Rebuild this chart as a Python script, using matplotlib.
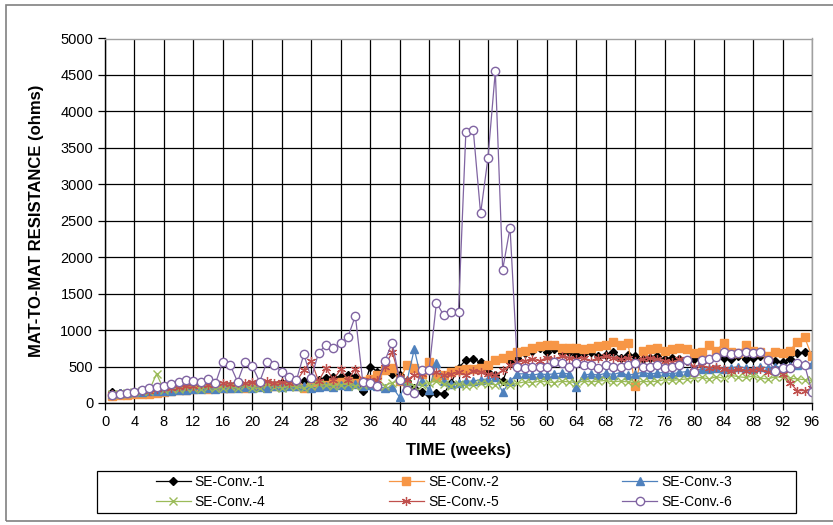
import matplotlib
matplotlib.use("Agg")
import matplotlib.pyplot as plt
from matplotlib.patches import Rectangle

weeks = list(range(1, 97))

se1 = [150, 140, 140, 150, 160, 170, 170, 180, 190, 200, 200, 210, 220, 220, 230, 220,
       240, 230, 240, 250, 240, 260, 250, 270, 260, 280, 300, 280, 320, 340, 350, 360,
       380, 360, 160, 500, 430, 470, 400, 380, 300, 200, 150, 120, 140, 130, 280, 480,
       590, 600, 560, 420, 380, 300, 560, 620, 680, 720, 760, 700, 740, 680, 700, 660,
       680, 700, 640, 660, 700, 620, 660, 640, 600, 620, 640, 600, 620, 600, 580, 600,
       620, 600, 640, 620, 600, 640, 600, 620, 640, 600, 580, 560, 600, 680, 700, 660]

se2 = [100, 110, 110, 120, 130, 130, 140, 150, 170, 180, 180, 190, 200, 190, 200, 210,
       200, 220, 210, 220, 230, 220, 240, 230, 250, 240, 200, 220, 260, 250, 280, 290,
       300, 280, 300, 330, 380, 450, 480, 300, 520, 480, 400, 560, 350, 380, 420, 450,
       460, 470, 480, 520, 590, 620, 660, 700, 720, 760, 780, 790, 800, 760, 750, 760,
       740, 760, 780, 800, 830, 800, 820, 240, 720, 740, 760, 720, 740, 760, 740, 680,
       700, 790, 720, 820, 700, 680, 790, 720, 700, 650, 700, 680, 720, 840, 900, 640]

se3 = [130, 140, 140, 150, 150, 160, 160, 170, 170, 180, 180, 190, 190, 200, 190, 200,
       210, 200, 220, 210, 220, 210, 230, 220, 230, 240, 230, 200, 220, 240, 220, 250,
       230, 260, 240, 250, 230, 200, 220, 80, 300, 740, 300, 180, 550, 300, 260, 280,
       300, 300, 320, 330, 350, 150, 300, 400, 400, 380, 400, 390, 400, 410, 400, 220,
       380, 400, 380, 410, 390, 420, 380, 400, 420, 400, 410, 420, 400, 420, 430, 450,
       460, 470, 480, 470, 480, 500, 480, 470, 500, 480, 500, 490, 510, 520, 540, 540]

se4 = [120, 130, 140, 150, 160, 170, 400, 180, 200, 190, 200, 210, 190, 220, 200, 210,
       230, 200, 250, 210, 200, 260, 220, 210, 230, 220, 200, 240, 260, 250, 230, 250,
       260, 230, 250, 270, 260, 240, 280, 300, 260, 240, 250, 280, 300, 260, 240, 260,
       240, 250, 270, 260, 250, 280, 250, 270, 290, 280, 300, 290, 280, 300, 290, 280,
       300, 290, 300, 310, 290, 300, 290, 280, 300, 290, 300, 320, 310, 320, 330, 340,
       350, 330, 360, 340, 380, 360, 350, 370, 340, 330, 360, 350, 340, 330, 320, 310]

se5 = [120, 130, 140, 150, 160, 170, 190, 200, 210, 220, 230, 240, 260, 250, 270, 280,
       260, 280, 270, 290, 280, 300, 270, 290, 280, 300, 450, 580, 300, 480, 320, 460,
       320, 470, 300, 320, 310, 500, 700, 350, 320, 380, 400, 450, 420, 380, 400, 420,
       380, 440, 420, 400, 380, 450, 520, 560, 580, 600, 580, 620, 600, 640, 620, 600,
       620, 580, 620, 640, 620, 600, 620, 580, 600, 620, 600, 580, 560, 600, 580, 500,
       520, 480, 500, 460, 440, 460, 440, 450, 470, 420, 450, 400, 280, 170, 170, 200]

se6 = [110, 120, 133, 155, 178, 200, 223, 233, 260, 292, 315, 305, 290, 330, 270, 565,
       520, 292, 565, 505, 290, 565, 520, 430, 360, 315, 670, 338, 690, 795, 750, 825,
       910, 1195, 290, 270, 233, 580, 825, 315, 178, 140, 452, 452, 1374, 1205, 1250, 1250,
       3717, 3750, 2600, 3360, 4550, 1830, 2405, 497, 475, 500, 500, 500, 557, 545, 500, 545,
       520, 520, 475, 520, 498, 498, 520, 543, 498, 498, 520, 475, 498, 520, 590, 430,
       590, 600, 625, 700, 670, 685, 700, 680, 700, 590, 443, 475, 475, 543, 520, 155]

names = ["SE-Conv.-1", "SE-Conv.-2", "SE-Conv.-3", "SE-Conv.-4", "SE-Conv.-5", "SE-Conv.-6"]
x_ticks = list(range(0, 97, 4))
y_ticks = list(range(0, 5001, 500))

plt.rcParams['font.family'] = ['Liberation Sans', 'DejaVu Sans']

fig = plt.figure(figsize=(8.33, 5.25), dpi=100)
ax = fig.add_axes([105/833, 1 - 403/525, (812-105)/833, (403-38.5)/525])

styles = [
    dict(color="black", marker="D", ms=4.5, mfc="black", mec="black"),
    dict(color="#F79646", marker="s", ms=5.5, mfc="#F79646", mec="#F79646"),
    dict(color="#4F81BD", marker="^", ms=6, mfc="#4F81BD", mec="#4F81BD"),
    dict(color="#9BBB59", marker="x", ms=6, mfc="#9BBB59", mec="#9BBB59", mew=1.0),
    dict(color="#C0504D", marker=(6, 2, 0), ms=6.5, mfc="#C0504D", mec="#C0504D", mew=0.9),
    dict(color="#8064A2", marker="o", ms=6, mfc="white", mec="#8064A2", mew=1.0),
]
series = [se1, se2, se3, se4, se5, se6]
handles = []
for vals, name, st in zip(series, names, styles):
    h, = ax.plot(weeks, vals, lw=0.9, label=name, **st)
    handles.append(h)

ax.set_xlim(0, 96)
ax.set_ylim(0, 5000)
ax.set_xticks(x_ticks)
ax.set_yticks(y_ticks)
ax.grid(True, color="black", lw=0.9)
ax.set_axisbelow(True)
ax.tick_params(axis="both", direction="out", length=5, width=0.9, labelsize=10.5, color="black")
for s in ["left", "bottom"]:
    ax.spines[s].set_color("black")
    ax.spines[s].set_linewidth(1.0)
for s in ["top", "right"]:
    ax.spines[s].set_color("#A0A0A0")
    ax.spines[s].set_linewidth(1.0)

ax.set_xlabel("TIME (weeks)", fontsize=12, fontweight="bold", labelpad=10)
ax.set_ylabel("MAT-TO-MAT RESISTANCE (ohms)", fontsize=12, fontweight="bold", labelpad=12)

order = [0, 3, 1, 4, 2, 5]
leg = fig.legend([handles[i] for i in order], [names[i] for i in order], ncol=3,
                 loc="center", bbox_to_anchor=(444/833, 1 - 492/525),
                 fontsize=10, frameon=False, borderaxespad=0, handlelength=2.5,
                 handletextpad=0.3, borderpad=0.2, labelspacing=0.4, columnspacing=8.9)

fig.patches.append(Rectangle((97/833, 1 - 513/525), (796-97)/833, 42/525,
                             transform=fig.transFigure, fill=False,
                             edgecolor="black", lw=0.9))
fig.patches.append(Rectangle((6/833, 4/525), 1.0, 1 - 9/525, transform=fig.transFigure,
                             fill=False, edgecolor="#808080", lw=1.2))

fig.savefig("out.png", dpi=100)
